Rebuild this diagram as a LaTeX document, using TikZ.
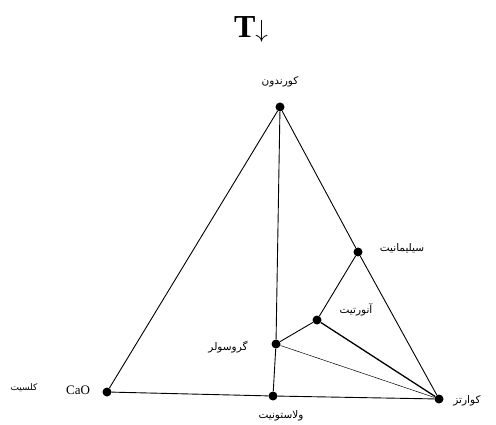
\documentclass[tikz,border=0pt]{standalone}
\usepackage{fontspec}
\setmainfont{Liberation Serif}
\newfontfamily\farsifont[Script=Arabic]{DejaVu Sans}
\TeXXeTstate=1
\usetikzlibrary{positioning}
\newcommand{\falbl}[1]{{\farsifont\beginR #1\endR}}

\begin{document}
\begin{tikzpicture}[x=1pt, y=-1pt]
    \tikzstyle{phase} = [circle, fill=black, inner sep=0pt, minimum size=9pt]
    \tikzstyle{mineral} = [font=\fontsize{10.5}{11}\selectfont, inner sep=1pt]
    \tikzstyle{tie} = [draw, line width=0.9pt]
    \useasboundingbox (0,0) rectangle (496,425);

    \node[font=\bfseries\fontsize{32}{32}\selectfont] (title) at (251,29) {T$\downarrow$};

    % phases
    \node[phase] (crd) at (280,107) {};
    \node[phase] (sil) at (358,252) {};
    \node[phase] (ano) at (317,320) {};
    \node[phase] (grs) at (276,344) {};
    \node[phase] (cao) at (107,392) {};
    \node[phase] (wol) at (273,396) {};
    \node[phase] (qtz) at (439,399) {};

    % labels
    \node[mineral] (crdname) at (280,82) {\falbl{کورندون}};
    \node[mineral] (silname) at (402,248) {\falbl{سیلیمانیت}};
    \node[mineral] (anoname) at (356,310) {\falbl{آنورتیت}};
    \node[mineral] (grsname) at (228,347) {\falbl{گروسولر}};
    \node[font=\fontsize{13}{13}\selectfont] (caoname) at (78,390) {CaO};
    \node[mineral, font=\fontsize{9}{10}\selectfont] (calname) at (24,388) {\falbl{کلسیت}};
    \node[mineral] (wolname) at (281,416) {\falbl{ولاستونیت}};
    \node[mineral] (qtzname) at (467,401) {\falbl{کوارتز}};

    % ties
    \path[tie] (crd) -- (cao) -- (wol) -- (qtz);
    \path[tie] (crd) -- (sil) -- (qtz);
    \path[tie] (crd) -- (grs) -- (wol);
    \path[tie] (grs) -- (ano) -- (sil);
    \path[tie, line width=1.3pt] (ano) -- (qtz);
    \path[draw, line width=0.5pt] (grs) -- (qtz);
\end{tikzpicture}
\end{document}
